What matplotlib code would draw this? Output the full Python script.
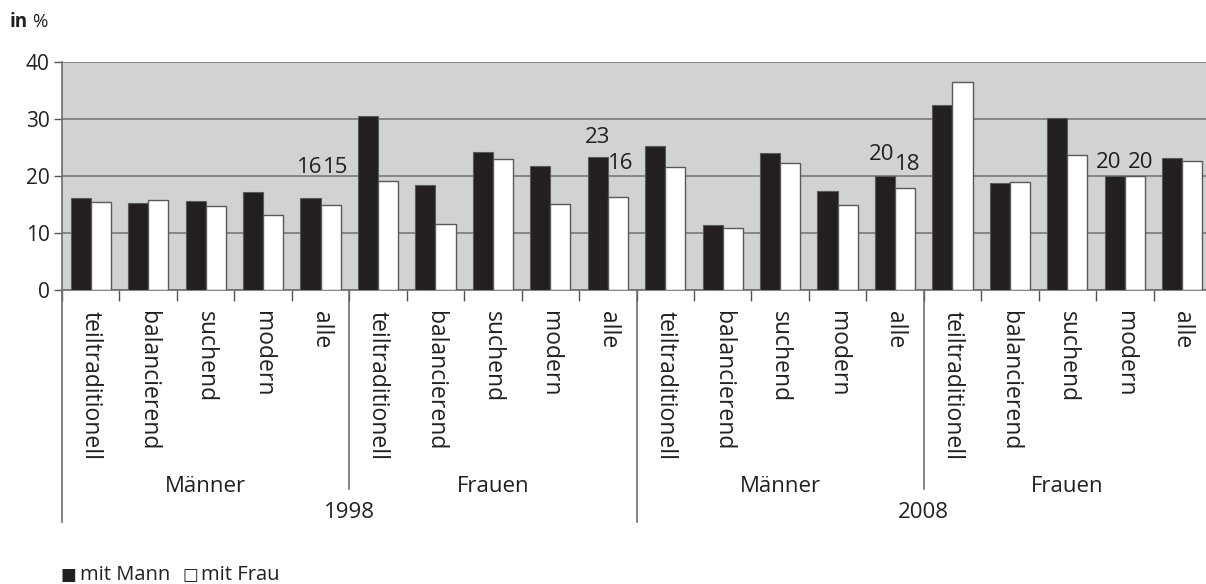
import matplotlib
matplotlib.use("Agg")
import matplotlib.pyplot as plt
import matplotlib.transforms as mtransforms
import numpy as np

plt.rcParams['font.family'] = ['Open Sans', 'DejaVu Sans']

# data
types = ["teiltraditionell", "balancierend", "suchend", "modern", "alle"]
sexes = ["Männer", "Frauen"]
years = ["1998", "2008"]
mit_mann = [16.2, 15.2, 15.6, 17.2, 16.1,
            30.5, 18.4, 24.2, 21.8, 23.4,
            25.3, 11.4, 24.1, 17.3, 20.0,
            32.5, 18.8, 30.1, 20.0, 23.2]
mit_frau = [15.5, 15.8, 14.7, 13.2, 14.9,
            19.1, 11.5, 22.9, 15.1, 16.3,
            21.5, 10.9, 22.3, 15.0, 17.9,
            36.5, 19.0, 23.6, 20.0, 22.6]
labelled = [4, 9, 14, 18]  # bars with printed values

n = len(mit_mann)
x = np.arange(n)
w = 0.35

W, H = 1206, 584
fig = plt.figure(figsize=(W / 100, H / 100), dpi=100)
# plot area is cut off at the right edge of the picture
ax = fig.add_axes([62 / W, (H - 290) / H, (1211 - 62) / W, (290 - 62) / H])
ax.set_facecolor('#d1d2d4')

ax.bar(x - w / 2, mit_mann, w, color='#231f20', edgecolor='#58595b', lw=0.8, zorder=3)
ax.bar(x + w / 2, mit_frau, w, color='white', edgecolor='#58595b', lw=1.0, zorder=3)

ax.set_xlim(-0.5, n - 0.5)
ax.set_ylim(0, 40)
ax.set_yticks([0, 10, 20, 30, 40])
ax.yaxis.grid(True, color='#7f7f7f', lw=1.3, zorder=1)
ax.set_axisbelow(True)
ax.tick_params(axis='y', length=6, width=1, color='#555555', labelsize=15,
               pad=3, labelcolor='#231f20')
for s in ['top', 'right']:
    ax.spines[s].set_visible(False)
ax.spines['left'].set_color('#6d6e71')
ax.spines['bottom'].set_color('#6d6e71')
ax.spines['left'].set_linewidth(1.2)
ax.spines['bottom'].set_linewidth(1.2)

# small ticks between categories
ax.set_xticks(np.arange(n + 1) - 0.5)
ax.set_xticklabels([])
ax.tick_params(axis='x', length=8, width=1, color='#555555')

trans = mtransforms.blended_transform_factory(ax.transData, ax.transAxes)
axh = 290 - 62


def ay(py):
    return (290 - py) / axh


for i in range(n):
    ax.text(i, ay(311), types[i % 5], rotation=-90, ha='center', va='top',
            fontsize=16.5, color='#231f20', transform=trans)

# group separators
for k in range(4):
    xs = k * 5 + 5 - 0.5
    if k % 2 == 0:
        ax.plot([xs, xs], [0, ay(489)], color='#6d6e71', lw=1.2,
                transform=trans, clip_on=False)
    else:
        ax.plot([xs, xs], [0, ay(522)], color='#6d6e71', lw=1.2,
                transform=trans, clip_on=False)
ax.plot([-0.5, -0.5], [0, ay(522)], color='#6d6e71', lw=1.2,
        transform=trans, clip_on=False)

for k in range(4):
    ax.text(k * 5 + 2, ay(486), sexes[k % 2], ha='center', va='center',
            fontsize=16, color='#231f20', transform=trans)
for k in range(2):
    ax.text(k * 10 + 4.5, ay(513), years[k], ha='center', va='center',
            fontsize=16, color='#231f20', transform=trans)

# value labels (pixel offsets from the bar tops)
offs = [((-1, 31), (5, 38)), ((0, 19), (3, 34)),
        ((-3, 21), (3, 23)), ((-6, 14), (6, 14))]
for idx, (o1, o2) in zip(labelled, offs):
    ax.annotate(f"{mit_mann[idx]:.0f}", (idx - w / 2, mit_mann[idx]),
                xytext=(o1[0] * 0.72, o1[1] * 0.72), textcoords='offset points',
                ha='center', va='center', fontsize=16, color='#231f20')
    ax.annotate(f"{mit_frau[idx]:.0f}", (idx + w / 2, mit_frau[idx]),
                xytext=(o2[0] * 0.72, o2[1] * 0.72), textcoords='offset points',
                ha='center', va='center', fontsize=16, color='#231f20')

# unit and legend
fig.text(10 / W, 1 - 22 / H, "in", fontweight='bold', fontsize=13.5,
         ha='left', va='center', color='#231f20')
fig.text(32 / W, 1 - 22 / H, "%", fontsize=13.5, ha='left', va='center',
         color='#231f20')
fig.text(61 / W, 1 - 575 / H, "\u25a0", fontsize=12, ha='left',
         va='center', color='#231f20', family=['DejaVu Sans'])
fig.text(80 / W, 1 - 575 / H, "mit Mann", fontsize=14.5, ha='left',
         va='center', color='#231f20')
fig.text(182 / W, 1 - 575 / H, "\u25a1", fontsize=12, ha='left',
         va='center', color='#231f20', family=['DejaVu Sans'])
fig.text(201 / W, 1 - 575 / H, "mit Frau", fontsize=14.5, ha='left',
         va='center', color='#231f20')

fig.savefig("out.png", dpi=100)
